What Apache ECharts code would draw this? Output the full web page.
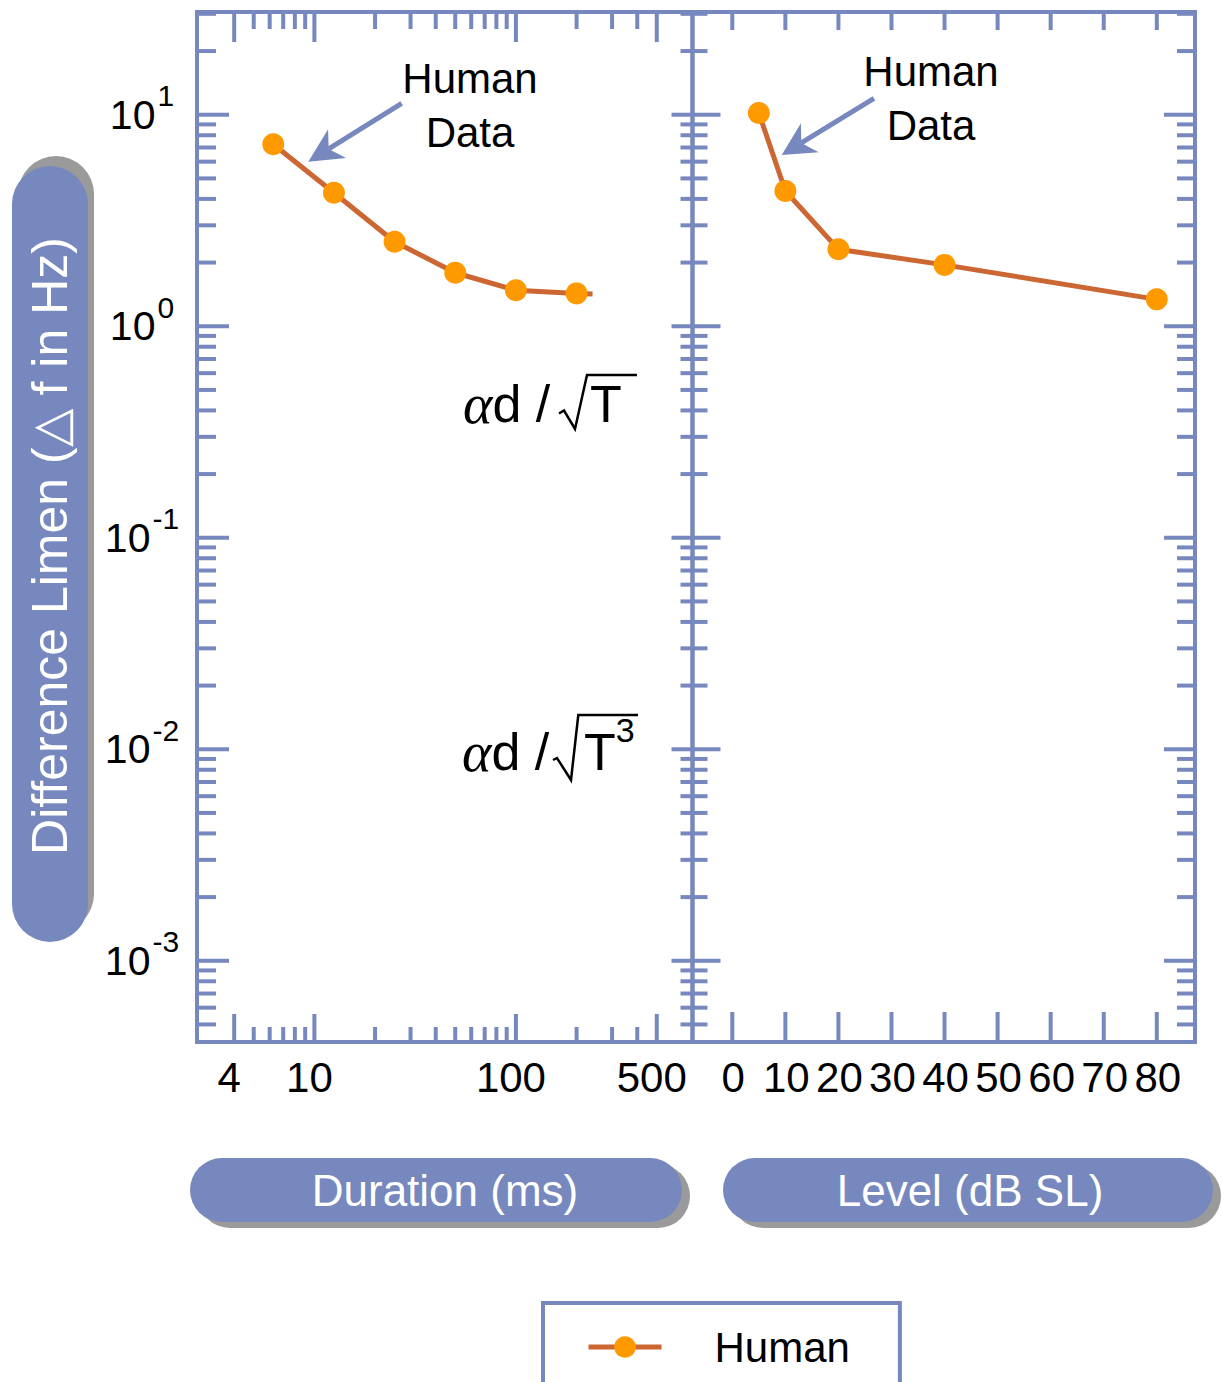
<!DOCTYPE html>
<html>
<head>
<meta charset="utf-8">
<script src="https://cdn.jsdelivr.net/npm/echarts@6/dist/echarts.min.js"></script>
<style>
  html, body { margin: 0; padding: 0; background: #ffffff; }
  #chart { width: 1222px; height: 1382px; }
</style>
</head>
<body>
<div id="chart"></div>
<script>
// ---------------- data ----------------
const durationMs = [6.25, 12.5, 25, 50, 100, 200];
const durationDL = [7.25, 4.28, 2.51, 1.79, 1.48, 1.43];
const durationLineEnd = [240, 1.42];

const levelDB = [5, 10, 20, 40, 80];
const levelDL = [10.2, 4.36, 2.31, 1.95, 1.34];

// axis ranges
const durationRange = [2.615, 752];
const levelRange = [-7.5, 87.2];
const dlRange = [0.000413, 30.6];

// ticks
const durationMajorTicks = [4, 10, 100, 500];
const durationTickLabels = ['4', '10', '100', '500'];
const durationMinorTicks = [5, 6, 7, 8, 9, 20, 30, 40, 50, 60, 70, 80, 90, 200, 300, 400];
const levelTicks = [0, 10, 20, 30, 40, 50, 60, 70, 80];
const levelTickLabels = ['0', '10', '20', '30', '40', '50', '60', '70', '80'];
const dlMajorTicks = [0.001, 0.01, 0.1, 1, 10];
const dlTickExponents = ['-3', '-2', '-1', '0', '1'];
const dlMinorMultipliers = [2, 3, 4, 5, 6, 7, 8, 9];
const dlMinorDecades = [0.0001, 0.001, 0.01, 0.1, 1, 10];

// texts
const seriesName = 'Human';
const yTitle = 'Difference Limen (\u25B3 f in Hz)';
const xTitleLeft = 'Duration (ms)';
const xTitleRight = 'Level (dB SL)';
const annotationText = 'Human\nData';

// ---------------- style ----------------
const AXIS_COLOR = '#7788bf';
const PILL_COLOR = '#7788bf';
const SHADOW_COLOR = '#9a9a9a';
const LINE_COLOR = '#cc6633';
const MARKER_COLOR = '#ff9900';
const FONT = '"Liberation Sans", Arial, Helvetica, sans-serif';
const SERIF = '"Liberation Serif", "Times New Roman", serif';

const dlMinorTicks = [];
dlMinorDecades.forEach(d => dlMinorMultipliers.forEach(m => {
  const v = d * m;
  if (v > dlRange[0] && v < dlRange[1]) dlMinorTicks.push(v);
}));

function makeTickRenderer(spec) {
  return function (params, api) {
    const cs = params.coordSys;
    const L = cs.x, R = cs.x + cs.width, T = cs.y, B = cs.y + cs.height;
    const kids = [];
    const seg = (x1, y1, x2, y2) => kids.push({
      type: 'line', shape: { x1, y1, x2, y2 },
      style: { stroke: AXIS_COLOR, lineWidth: 4 }
    });
    const xPix = v => api.coord([v, spec.yRef])[0];
    const yPix = v => api.coord([spec.xRef, v])[1];
    dlMajorTicks.forEach((v, i) => {
      const y = yPix(v);
      seg(L, y, L + spec.yLeft[0], y);
      seg(R, y, R - spec.yRight[0], y);
      if (spec.yLabels) {
        kids.push({
          type: 'text',
          style: {
            text: '{b|10}{s|' + dlTickExponents[i] + '}',
            x: L - 55, y: y,
            align: 'center', verticalAlign: 'middle',
            rich: {
              b: { fontSize: 41, fontFamily: FONT, lineHeight: 41, fill: '#000' },
              s: { fontSize: 30, fontFamily: FONT, lineHeight: 30, fill: '#000', padding: [0, 0, 38, 2] }
            }
          }
        });
      }
    });
    dlMinorTicks.forEach(v => {
      const y = yPix(v);
      seg(L, y, L + spec.yLeft[1], y);
      seg(R, y, R - spec.yRight[1], y);
    });
    spec.xMajor.forEach((v, i) => {
      const x = xPix(v);
      seg(x, B, x, B - spec.xBottom[0]);
      seg(x, T, x, T + spec.xTop[0]);
      kids.push({
        type: 'text',
        style: {
          text: spec.xLabels[i], x: x + spec.labelDx, y: B + 35,
          align: 'center', verticalAlign: 'middle',
          fontSize: 42, fontFamily: FONT, fill: '#000'
        }
      });
    });
    spec.xMinor.forEach(v => {
      const x = xPix(v);
      seg(x, B, x, B - spec.xBottom[1]);
      seg(x, T, x, T + spec.xTop[1]);
    });
    return { type: 'group', children: kids };
  };
}

function arrowShape(tail, tip, headLen, halfW, indent, shaftW) {
  const dx = tip[0] - tail[0], dy = tip[1] - tail[1];
  const len = Math.sqrt(dx * dx + dy * dy);
  const ux = dx / len, uy = dy / len;
  const nx = -uy, ny = ux;
  const base = [tip[0] - ux * headLen, tip[1] - uy * headLen];
  const notch = [tip[0] - ux * indent, tip[1] - uy * indent];
  return [
    { type: 'line', shape: { x1: tail[0], y1: tail[1], x2: notch[0], y2: notch[1] },
      style: { stroke: AXIS_COLOR, lineWidth: shaftW } },
    { type: 'polygon', shape: { points: [tip, [base[0] + nx * halfW, base[1] + ny * halfW], notch,
      [base[0] - nx * halfW, base[1] - ny * halfW]] }, style: { fill: AXIS_COLOR } }
  ];
}

function pill(x, y, w, h, sx, sy) {
  const r = Math.min(w, h) / 2;
  return [
    { type: 'rect', shape: { x: x + sx, y: y + sy, width: w, height: h, r: r }, style: { fill: SHADOW_COLOR } },
    { type: 'rect', shape: { x: x, y: y, width: w, height: h, r: r }, style: { fill: PILL_COLOR } }
  ];
}

function formula(x, capY, radical, tX, sup) {
  const tText = sup ? '{t|T}{s|' + sup + '}' : '{t|T}';
  return [
    { type: 'text', style: { text: '{a|\u03B1}{d|d /}', x: x, y: capY, align: 'left', verticalAlign: 'middle',
      rich: { a: { fontSize: 56, fontFamily: SERIF, fontStyle: 'italic', fill: '#000' },
              d: { fontSize: 52, fontFamily: FONT, fill: '#000' } } } },
    { type: 'polyline', shape: { points: radical }, style: { stroke: '#000', lineWidth: 2.5, fill: null } },
    { type: 'text', style: { text: tText, x: tX, y: capY, align: 'left', verticalAlign: 'middle',
      rich: { t: { fontSize: 52, lineHeight: 52, fontFamily: FONT, fill: '#000' },
              s: { fontSize: 34, lineHeight: 34, fontFamily: FONT, fill: '#000', padding: [0, 0, 44, 0] } } } }
  ];
}

const graphics = [].concat(
  pill(12, 166, 76, 776, 6, -10),
  [{ type: 'text', x: 50, y: 546, rotation: Math.PI / 2,
     style: { text: yTitle, x: 0, y: 0, align: 'center', verticalAlign: 'middle',
              fontSize: 50, fontFamily: FONT, fill: '#ffffff' } }],
  pill(190, 1158, 492, 64, 8, 6),
  [{ type: 'text', style: { text: xTitleLeft, x: 445, y: 1190, align: 'center', verticalAlign: 'middle',
      fontSize: 44, fontFamily: FONT, fill: '#ffffff' } }],
  pill(723, 1158, 490, 64, 8, 6),
  [{ type: 'text', style: { text: xTitleRight, x: 970, y: 1190, align: 'center', verticalAlign: 'middle',
      fontSize: 44, fontFamily: FONT, fill: '#ffffff' } }],
  [{ type: 'text', style: { text: annotationText, x: 470, y: 105, align: 'center', verticalAlign: 'middle',
      fontSize: 42, lineHeight: 54, fontFamily: FONT, fill: '#000' } }],
  [{ type: 'text', style: { text: annotationText, x: 931, y: 98, align: 'center', verticalAlign: 'middle',
      fontSize: 42, lineHeight: 54, fontFamily: FONT, fill: '#000' } }],
  arrowShape([401.7, 103.3], [308.3, 161.7], 34, 17, 24, 5),
  arrowShape([874, 98.3], [781.7, 155], 33, 17, 23, 5),
  formula(463, 404, [[559, 413.5], [564, 410.5], [575, 429], [587, 375], [637, 375]], 590, null),
  formula(462, 752, [[553, 760], [557, 758], [571, 780], [578.3, 715], [638, 715]], 584, '3')
);

const chart = echarts.init(document.getElementById('chart'), null, { renderer: 'svg' });
chart.setOption({
  animation: false,
  backgroundColor: '#ffffff',
  grid: [
    { left: 197, top: 12, width: 495.5, height: 1030, show: true, borderColor: AXIS_COLOR, borderWidth: 4, backgroundColor: 'transparent' },
    { left: 692.5, top: 12, width: 502.5, height: 1030, show: true, borderColor: AXIS_COLOR, borderWidth: 4, backgroundColor: 'transparent' }
  ],
  xAxis: [
    { type: 'log', gridIndex: 0, min: durationRange[0], max: durationRange[1], show: false },
    { type: 'value', gridIndex: 1, min: levelRange[0], max: levelRange[1], show: false }
  ],
  yAxis: [
    { type: 'log', gridIndex: 0, min: dlRange[0], max: dlRange[1], show: false },
    { type: 'log', gridIndex: 1, min: dlRange[0], max: dlRange[1], show: false }
  ],
  legend: {
    data: [seriesName], left: 543, top: 1303, orient: 'horizontal',
    padding: [23, 50, 80, 43], borderColor: AXIS_COLOR, borderWidth: 4, borderRadius: 0,
    itemWidth: 73, itemHeight: 27, selectedMode: false,
    lineStyle: { width: 5, color: LINE_COLOR },
    itemStyle: { color: MARKER_COLOR },
    textStyle: { fontSize: 42, fontFamily: FONT, color: '#000', padding: [0, 0, 0, 48] }
  },
  graphic: { elements: graphics },
  series: [
    {
      type: 'custom', xAxisIndex: 0, yAxisIndex: 0, silent: true, z: 5,
      data: [[10, 1]],
      renderItem: makeTickRenderer({
        xRef: 10, yRef: 1,
        yLeft: [32, 19], yRight: [21, 12],
        xBottom: [28, 15], xTop: [30, 17],
        xMajor: durationMajorTicks, xLabels: durationTickLabels, xMinor: durationMinorTicks,
        yLabels: true, labelDx: -5
      })
    },
    {
      type: 'custom', xAxisIndex: 1, yAxisIndex: 1, silent: true, z: 5,
      data: [[10, 1]],
      renderItem: makeTickRenderer({
        xRef: 10, yRef: 1,
        yLeft: [28, 15], yRight: [31, 18],
        xBottom: [30, 30], xTop: [18, 18],
        xMajor: levelTicks, xLabels: levelTickLabels, xMinor: [],
        yLabels: false, labelDx: 1
      })
    },
    {
      name: seriesName, type: 'line', xAxisIndex: 0, yAxisIndex: 0, z: 10,
      symbol: 'circle', symbolSize: 22,
      lineStyle: { color: LINE_COLOR, width: 5 },
      itemStyle: { color: MARKER_COLOR },
      data: durationMs.map((x, i) => [x, durationDL[i]])
        .concat([{ value: durationLineEnd, symbol: 'none' }])
    },
    {
      name: seriesName, type: 'line', xAxisIndex: 1, yAxisIndex: 1, z: 10,
      symbol: 'circle', symbolSize: 22,
      lineStyle: { color: LINE_COLOR, width: 5 },
      itemStyle: { color: MARKER_COLOR },
      data: levelDB.map((x, i) => [x, levelDL[i]])
    }
  ]
});
</script>
</body>
</html>
